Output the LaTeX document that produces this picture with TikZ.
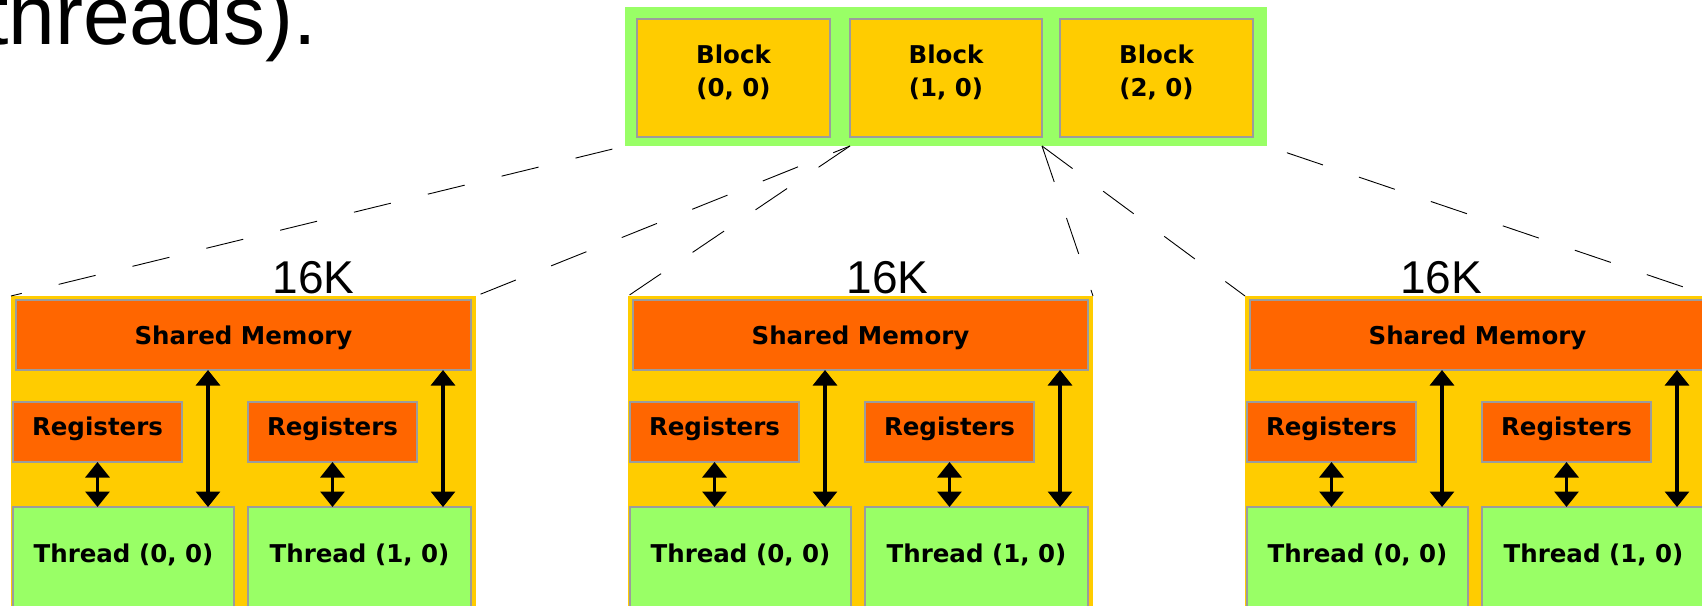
\documentclass[tikz,border=0pt]{standalone}
\usepackage{fontspec}
\setmainfont{Liberation Sans}
\newfontfamily\vfont{DejaVu Sans}
\usetikzlibrary{arrows.meta}
\definecolor{cyell}{HTML}{FFCC00}
\definecolor{corange}{HTML}{FF6600}
\definecolor{cgreen}{HTML}{99FF66}
\definecolor{cborder}{HTML}{9C9C9C}
\begin{document}
\begin{tikzpicture}[x=1pt,y=-1pt,
  bx/.style={draw=cborder, line width=1.5pt, inner sep=0pt, outer sep=0pt, anchor=north west},
  plain/.style={inner sep=0pt, outer sep=0pt, anchor=north west},
  txt/.style={font=\vfont\bfseries\fontsize{24.5}{28}\selectfont, anchor=base, inner sep=0pt},
  big/.style={font=\fontsize{46}{50}\selectfont, anchor=base, inner sep=0pt},
  dl/.style={draw=black, line width=0.9pt, dash pattern=on 38pt off 38pt},
  tip/.tip={Triangle[width=24pt 0,length=15.5pt 0]},
  dbl/.style={line width=3.2pt, tip-tip}]
\useasboundingbox (0,0) rectangle (1702,605);
\fill[white] (0,0) rectangle (1702,605);

% heading fragment
\node[inner sep=0pt, anchor=base west, font=\fontsize{84}{90}\selectfont] (head) at (-15,44) {threads).};

% grid of blocks
\node[plain, fill=cgreen, minimum width=642, minimum height=139] (grid) at (625,7) {};
\node[bx, fill=cyell, minimum width=193, minimum height=118] (bk0) at (637,19) {};
\node[bx, fill=cyell, minimum width=192, minimum height=118] (bk1) at (850,19) {};
\node[bx, fill=cyell, minimum width=193, minimum height=118] (bk2) at (1060,19) {};
\node[txt] (bk0a) at (bk0.north |- 0,63) {Block};
\node[txt] (bk0b) at (bk0.north |- 0,96) {(0, 0)};
\node[txt] (bk1a) at (bk1.north |- 0,63) {Block};
\node[txt] (bk1b) at (bk1.north |- 0,96) {(1, 0)};
\node[txt] (bk2a) at (bk2.north |- 0,63) {Block};
\node[txt] (bk2b) at (bk2.north |- 0,96) {(2, 0)};

% multiprocessors
\foreach \i/\ox in {1/11,2/628,3/1245}{
  \begin{scope}[shift={(\ox,0)}]
    \node[plain, fill=cyell, minimum width=465, minimum height=350] (sm\i) at (0,296) {};
    \node[bx, fill=corange, minimum width=455, minimum height=70] (shm\i) at (5,300) {};
    \node[txt] (shmt\i) at (232.5,344) {Shared Memory};
    \node[bx, fill=corange, minimum width=169, minimum height=60] (rga\i) at (2,402) {};
    \node[bx, fill=corange, minimum width=169, minimum height=60] (rgb\i) at (237,402) {};
    \node[txt] (rgat\i) at (86.5,435) {Registers};
    \node[txt] (rgbt\i) at (321.5,435) {Registers};
    \node[bx, fill=cgreen, minimum width=221, minimum height=140] (tha\i) at (2,507) {};
    \node[bx, fill=cgreen, minimum width=223, minimum height=140] (thb\i) at (237,507) {};
    \node[txt] (that\i) at (112.5,562) {Thread (0, 0)};
    \node[txt] (thbt\i) at (348.5,562) {Thread (1, 0)};
    \coordinate (xl\i) at (197,0);
    \coordinate (xr\i) at (432,0);
    \draw[dbl] (rga\i.south) -- (rga\i.south |- tha\i.north);
    \draw[dbl] (rgb\i.south) -- (rgb\i.south |- thb\i.north);
    \draw[dbl] (shm\i.south -| xl\i) -- (tha\i.north -| xl\i);
    \draw[dbl] (shm\i.south -| xr\i) -- (thb\i.north -| xr\i);
  \end{scope}
}

% size labels
\node[big] (k1) at (313.5,293) {16K};
\node[big] (k2) at (887.5,293) {16K};
\node[big] (k3) at (1441,293) {16K};

% dashed fan-out lines
\draw[dl, dash phase=63pt] (grid.south west) -- (sm1.north west);
\draw[dl, dash phase=20pt] (grid.south -| bk1.west) -- (sm1.north east);
\draw[dl] (grid.south -| bk1.west) -- (sm2.north west);
\draw[dl] (grid.south -| bk1.east) -- (sm2.north east);
\draw[dl] (grid.south -| bk1.east) -- (sm3.north west);
\draw[dl, dash phase=55pt] (grid.south east) -- (sm3.north east);
\end{tikzpicture}
\end{document}
